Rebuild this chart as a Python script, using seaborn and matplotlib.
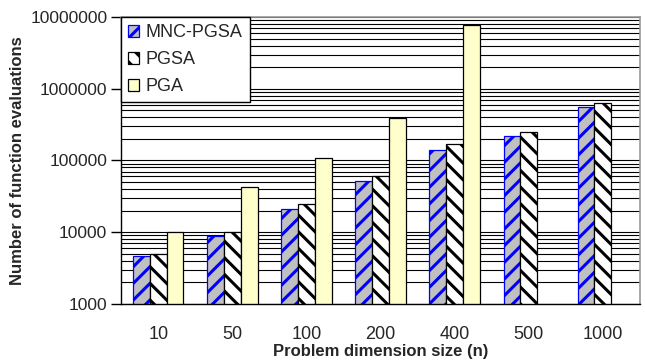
import numpy as np
import pandas as pd
import matplotlib
matplotlib.use("Agg")
import matplotlib.pyplot as plt
import seaborn as sns
from matplotlib.patches import Patch
from matplotlib.ticker import FixedLocator, NullFormatter, FuncFormatter, LogLocator

# ----------------------------
# Data
# ----------------------------
sizes = ["10", "50", "100", "200", "400", "500", "1000"]
methods = ["MNC-PGSA", "PGSA", "PGA"]
mnc_pgsa = [4700, 8700, 21000, 52000, 140000, 220000, 565000]
pgsa = [5000, 10000, 24500, 61000, 168000, 250000, 640000]
pga = [10000, 42000, 108000, 390000, 7800000, np.nan, np.nan]

df = pd.DataFrame({
    "n": sizes * 3,
    "method": [m for m in methods for _ in sizes],
    "evals": mnc_pgsa + pgsa + pga,
})

# ----------------------------
# Style
# ----------------------------
sns.set_style("white")
plt.rcParams["font.family"] = ["Liberation Sans", "DejaVu Sans"]
plt.rcParams["hatch.linewidth"] = 2.2

fig, ax = plt.subplots(figsize=(6.45, 3.63), dpi=100)
fig.subplots_adjust(left=0.188, right=0.992, top=0.953, bottom=0.163)
ax.set_yscale("log")

sns.barplot(data=df, x="n", y="evals", hue="method", order=sizes,
            hue_order=methods, errorbar=None, width=0.68, ax=ax, legend=False)

styles = {
    "MNC-PGSA": dict(facecolor="#C0C0C0", edgecolor="#0000FF", hatch="//"),
    "PGSA": dict(facecolor="white", edgecolor="black", hatch="\\\\"),
    "PGA": dict(facecolor="#FFFFCC", edgecolor="black", hatch=None),
}
for cont, m in zip(ax.containers, methods):
    for bar in cont:
        bar.set_facecolor(styles[m]["facecolor"])
        bar.set_edgecolor(styles[m]["edgecolor"])
        bar.set_hatch(styles[m]["hatch"])
        bar.set_linewidth(0.9)

# ----------------------------
# Axes
# ----------------------------
ax.set_ylim(1000, 10000000)
ax.set_xlim(-0.5, len(sizes) - 0.5)
ax.yaxis.set_major_locator(LogLocator(base=10, numticks=10))
ax.yaxis.set_major_formatter(FuncFormatter(lambda v, p: f"{int(round(v))}"))
ax.yaxis.set_minor_locator(LogLocator(base=10, subs=np.arange(2, 10), numticks=20))
ax.yaxis.set_minor_formatter(NullFormatter())
ax.yaxis.grid(True, which="both", color="black", linewidth=0.8)
ax.set_axisbelow(True)

ax.xaxis.set_minor_locator(FixedLocator(np.arange(-0.5, len(sizes), 1.0)))
ax.tick_params(axis="x", which="major", length=0, labelsize=13, pad=16)
ax.tick_params(axis="x", which="minor", length=6, width=1, color="black", direction="out")
ax.tick_params(axis="y", which="major", length=7, width=1, color="black", labelsize=12.5,
               left=True, pad=3)
ax.tick_params(axis="y", which="minor", length=0)

for side in ["left", "bottom"]:
    ax.spines[side].set_color("black")
    ax.spines[side].set_linewidth(1.0)
for side in ["top", "right"]:
    ax.spines[side].set_color("#999999")
    ax.spines[side].set_linewidth(1.2)

ax.set_xlabel("Problem dimension size (n)", fontsize=12, fontweight="bold", labelpad=1)
ax.set_ylabel("Number of function evaluations", fontsize=12, fontweight="bold", labelpad=4)

# ----------------------------
# Legend
# ----------------------------
handles = [Patch(facecolor=styles[m]["facecolor"], edgecolor=styles[m]["edgecolor"],
                 hatch=styles[m]["hatch"], linewidth=0.9, label=m) for m in methods]
leg = ax.legend(handles=handles, loc="upper left", bbox_to_anchor=(0, 1),
                borderaxespad=0, frameon=True, fancybox=False, fontsize=13,
                handlelength=0.6, handleheight=0.6, handletextpad=0.35,
                labelspacing=0.55, borderpad=0.4)
leg.get_frame().set_edgecolor("black")
leg.get_frame().set_linewidth(1.0)
leg.get_frame().set_alpha(1)

fig.savefig("out.png", dpi=100)
